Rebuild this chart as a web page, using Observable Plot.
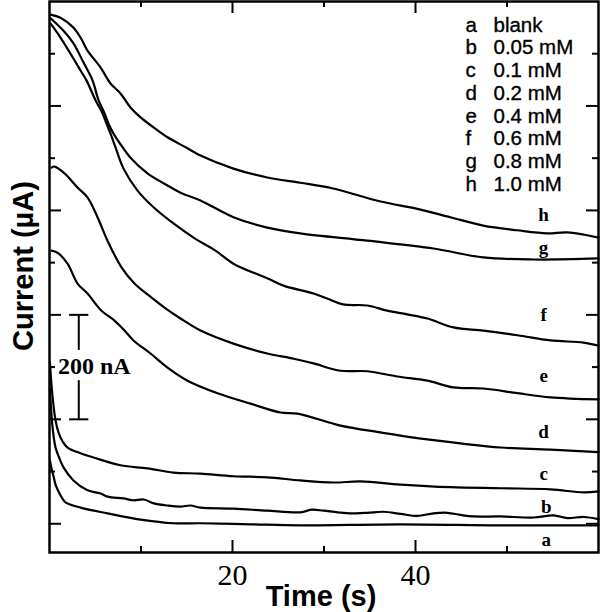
<!DOCTYPE html>
<html><head><meta charset="utf-8">
<script src="https://cdn.jsdelivr.net/npm/d3@7"></script>
<script src="https://cdn.jsdelivr.net/npm/@observablehq/plot@0.6"></script>
<style>body{margin:0;background:#fff}</style>
</head><body><div id="chart"></div>
<script>
// time (s), current (nA, arbitrary offset)
const curveA = [[0.05,121],[0.22,106],[0.44,91],[0.66,75],[0.98,62],[1.42,48],[1.75,41],[3.39,31],[6.34,20],[9.95,8],[13.55,1],[16.5,1],[21.97,-1],[27.4,-3],[38.36,-1],[49.3,-3],[60,-3]];
const curveB = [[0.05,259],[0.22,207],[0.44,169],[0.66,146],[1.09,125],[1.53,108],[2.62,83],[4.15,64],[5.57,58],[6.34,52],[8.09,48.5],[9.18,45],[10.3,46.5],[11.4,39],[12.9,35],[14.3,33],[15.4,35],[16.5,31],[20.1,29],[23.8,25],[27.4,22],[28.7,27],[29.95,25],[31.5,22],[32.9,20],[34.75,21],[36.5,23],[38.36,19],[40.2,15],[41.97,20],[43.5,21],[44.9,17],[46.3,14],[49.3,14],[52.9,12],[55.1,16],[56.6,11],[58.4,13],[60,9]];
const curveC = [[0.05,309],[0.22,265],[0.44,226],[0.66,198],[0.98,175],[1.42,158],[1.97,146],[3.39,135],[4.81,127],[7.76,112],[10.71,106],[13.55,98],[16.5,96],[20.1,91],[23.8,89],[27.4,83],[31.04,79],[34.0,81],[38.36,75],[43.8,70],[49.3,68],[54.75,66],[58.36,60],[60,62]];
const curveD = [[0.22,523],[0.87,519],[1.97,498],[3.06,460],[4.15,441],[5.68,408],[7.1,389],[8.2,370],[9.18,351],[11.04,326],[12.9,299],[15.08,274],[18.36,250],[21.97,230],[25.25,213],[27.1,211],[31.8,188],[36.17,175],[39.8,165],[44.9,154],[49.3,146],[54.75,142],[60,137]];
const curveE = [[0.22,682],[0.55,684],[1.64,671],[3.06,644],[4.15,625],[5.25,587],[6.34,542],[7.87,491],[9.29,460],[11.15,433],[12.57,414],[14.32,393],[16.5,370],[20.1,345],[23.8,326],[26.7,316],[28.85,307],[31.8,293],[34.75,292],[38.0,282],[41.3,274],[44.15,261],[47.43,259],[51.15,250],[54.75,242],[60,238]];
const curveF = [[0.11,958],[1.2,931],[2.3,900],[3.39,868],[4.04,849],[5.03,811],[5.79,786],[6.23,766],[6.67,747],[7.21,721],[8.09,680],[9.62,638],[11.37,606],[13.55,575],[15.74,548],[18.14,523],[20.1,498],[23.8,470],[25.57,456],[28.85,441],[30.4,431],[32.1,420],[34.75,418],[36.9,408],[39.1,401],[41.3,393],[44.15,376],[47.43,370],[51.15,361],[54.75,351],[58.36,347],[60,341]];
const curveG = [[0.11,968],[1.53,944],[2.62,920],[3.72,883],[4.7,849],[5.36,811],[6.01,786],[6.45,766],[7.0,747],[7.98,721],[8.85,701],[10.71,671],[12.46,652],[14.32,634],[16.5,619],[20.1,587],[23.8,567],[27.4,556],[34.75,542],[41.97,527],[47.43,510],[52.9,506],[60,508]];
const curveH = [[0.11,975],[1.2,969],[2.62,950],[3.39,931],[4.15,906],[4.81,891],[5.57,874],[6.67,843],[7.76,824],[8.85,797],[9.95,778],[11.37,759],[12.9,740],[15.08,719],[16.5,705],[20.1,680],[23.8,663],[27.4,653],[31.0,642],[36.2,617],[40.2,603],[43.8,587],[47.4,571],[51.1,562],[54.4,556],[56.6,558],[60,548]];

const seriesNames = ["a","b","c","d","e","f","g","h"];
const seriesCurves = [curveA,curveB,curveC,curveD,curveE,curveF,curveG,curveH];
const legendTexts = ["blank","0.05 mM","0.1 mM","0.2 mM","0.4 mM","0.6 mM","0.8 mM","1.0 mM"];
// curve label anchor points (time, current)
const labelTimes = [54.3,54.3,54,54,54,54,54,54];
const labelCurrents = [-30,33,96,175,284,399,529,592];

const xMajorTicks = [20,40];
const xMinorTicks = [10,30,50];
const yMajorTicks = [0,200,400,600,800];
const yMinorTicks = [100,300,500,700,900];

// scale bar: 200 nA
const barTime = 3.2, barLow = 200, barHigh = 400, barGapLow = 274, barGapHigh = 332;
const barCapFrom = 2.2, barCapTo = 4.3;
const barLabel = "200 nA", barLabelTime = 4.9, barLabelCurrent = 301;

const W = 600, H = 612, mL = 49, mR = 2, mT = 1, mB = 60;
const fw = W - mL - mR, fh = H - mT - mB;
const big = 12, small = 6;

const data = seriesCurves.flatMap((pts, k) => pts.map(([t, i]) => ({t, i, s: seriesNames[k]})));
const labels = seriesNames.map((s, k) => ({s, t: labelTimes[k], i: labelCurrents[k]}));

const tickStyle = {stroke: "black", strokeWidth: 2};
const chart = Plot.plot({
  width: W, height: H,
  marginLeft: mL, marginRight: mR, marginTop: mT, marginBottom: mB,
  x: {domain: [0, 60], axis: null},
  y: {domain: [-55, 1000], axis: null},
  style: {background: "white", color: "black"},
  marks: [
    Plot.line(data, {x: "t", y: "i", z: "s", stroke: "black", strokeWidth: 2.2, curve: "catmull-rom"}),
    // x ticks bottom/top
    Plot.ruleX(xMajorTicks, {x: d => d, insetTop: fh - big, ...tickStyle}),
    Plot.ruleX(xMinorTicks, {x: d => d, insetTop: fh - small, ...tickStyle}),
    Plot.ruleX(xMajorTicks, {x: d => d, insetBottom: fh - big, ...tickStyle}),
    Plot.ruleX(xMinorTicks, {x: d => d, insetBottom: fh - small, ...tickStyle}),
    // y ticks left/right
    Plot.ruleY(yMajorTicks, {y: d => d, insetRight: fw - big, ...tickStyle}),
    Plot.ruleY(yMinorTicks, {y: d => d, insetRight: fw - small, ...tickStyle}),
    Plot.ruleY(yMajorTicks, {y: d => d, insetLeft: fw - big, ...tickStyle}),
    Plot.ruleY(yMinorTicks, {y: d => d, insetLeft: fw - small, ...tickStyle}),
    Plot.frame({stroke: "black", strokeWidth: 2.5}),
    // tick labels
    Plot.text(xMajorTicks, {x: d => d, text: d => String(d), frameAnchor: "bottom", dy: 32, lineAnchor: "bottom",
      fontSize: 30, fontFamily: "Liberation Serif", fill: "black"}),
    // axis titles
    Plot.text(["Time (s)"], {frameAnchor: "bottom", dx: -3, dy: 53, lineAnchor: "bottom", textAnchor: "middle",
      fontSize: 29, fontWeight: "bold", fontFamily: "Liberation Sans", fill: "black"}),
    Plot.text(["Current (µA)"], {frameAnchor: "left", rotate: -90, dx: -17, dy: -11, lineAnchor: "bottom", textAnchor: "middle",
      fontSize: 29, fontWeight: "bold", fontFamily: "Liberation Sans", fill: "black"}),
    // legend
    Plot.text([seriesNames.join("\n")], {frameAnchor: "top-right", dx: -133, dy: 14, textAnchor: "start", lineAnchor: "top",
      lineHeight: 1.11, fontSize: 20.5, fontFamily: "Liberation Sans", fill: "black", stroke: "black", strokeWidth: 0.35}),
    Plot.text([legendTexts.join("\n")], {frameAnchor: "top-right", dx: -105, dy: 14, textAnchor: "start", lineAnchor: "top",
      lineHeight: 1.11, fontSize: 20.5, fontFamily: "Liberation Sans", fill: "black", stroke: "black", strokeWidth: 0.35}),
    // curve labels
    Plot.text(labels, {x: "t", y: "i", text: "s", fontSize: 19, fontWeight: "bold", fontFamily: "Liberation Serif", fill: "black"}),
    // scale bar
    Plot.ruleX([barTime], {x: d => d, y1: barLow, y2: barGapLow, ...tickStyle}),
    Plot.ruleX([barTime], {x: d => d, y1: barGapHigh, y2: barHigh, ...tickStyle}),
    Plot.ruleY([barLow, barHigh], {y: d => d, x1: barCapFrom, x2: barCapTo, ...tickStyle}),
    Plot.text([barLabel], {x: barLabelTime, y: barLabelCurrent, text: d => d, fontSize: 24, fontWeight: "bold",
      fontFamily: "Liberation Serif", fill: "black"})
  ]
});
document.getElementById("chart").appendChild(chart);
</script>
</body></html>
